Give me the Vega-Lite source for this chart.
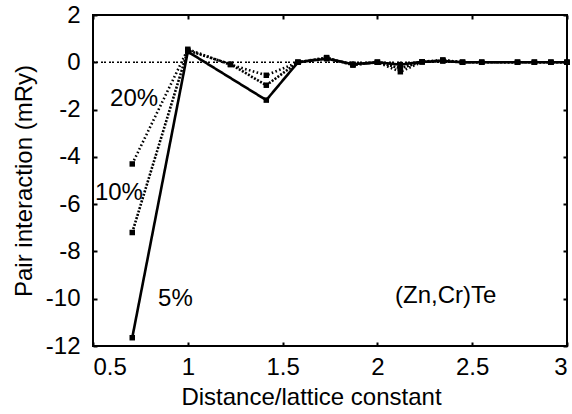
{
  "$schema": "https://vega.github.io/schema/vega-lite/v6.json",
  "width": 474,
  "height": 331,
  "autosize": {"type": "none"},
  "padding": {"left": 93, "top": 15, "right": 5, "bottom": 68},
  "background": "white",
  "config": {
    "font": "Liberation Sans",
    "view": {"stroke": "#000", "strokeWidth": 2},
    "axis": {
      "domain": false,
      "grid": false,
      "tickColor": "#000",
      "tickWidth": 2,
      "tickSize": -4,
      "labelFont": "Liberation Sans",
      "labelFontSize": 24,
      "labelColor": "#000",
      "titleFont": "Liberation Sans",
      "titleFontSize": 24,
      "titleFontWeight": "normal",
      "titleColor": "#000"
    }
  },
  "layer": [
    {
      "data": {"values": [{"d": 0.5}, {"d": 3}]},
      "mark": {"type": "line", "color": "#000", "strokeWidth": 1.6, "strokeDash": [2, 1, 2, 3]},
      "encoding": {
        "x": {"field": "d", "type": "quantitative", "scale": {"domain": [0.5, 3], "nice": false, "zero": false},
              "axis": {"orient": "top", "labels": false, "title": null, "values": [0.5, 1, 1.5, 2, 2.5, 3]}},
        "y": {"datum": 0, "type": "quantitative", "scale": {"domain": [-12, 2], "nice": false},
              "axis": {"orient": "right", "labels": false, "title": null, "values": [-12, -10, -8, -6, -4, -2, 0, 2]}}
      }
    },
    {
      "data": {"values": [
        {"d": 0.707, "v": -11.65, "s": "5%"},
        {"d": 1.0, "v": 0.45, "s": "5%"},
        {"d": 1.414, "v": -1.6, "s": "5%"},
        {"d": 1.581, "v": 0.0, "s": "5%"},
        {"d": 1.732, "v": 0.15, "s": "5%"},
        {"d": 1.871, "v": -0.08, "s": "5%"},
        {"d": 2.0, "v": 0.0, "s": "5%"},
        {"d": 2.121, "v": -0.1, "s": "5%"},
        {"d": 2.236, "v": 0.02, "s": "5%"},
        {"d": 2.345, "v": 0.05, "s": "5%"},
        {"d": 2.449, "v": 0.0, "s": "5%"},
        {"d": 2.55, "v": 0.0, "s": "5%"},
        {"d": 2.739, "v": 0.0, "s": "5%"},
        {"d": 2.828, "v": 0.0, "s": "5%"},
        {"d": 2.915, "v": 0.0, "s": "5%"},
        {"d": 3.0, "v": 0.0, "s": "5%"},
        {"d": 0.707, "v": -7.2, "s": "10%"},
        {"d": 1.0, "v": 0.5, "s": "10%"},
        {"d": 1.225, "v": -0.08, "s": "10%"},
        {"d": 1.414, "v": -0.97, "s": "10%"},
        {"d": 1.581, "v": 0.0, "s": "10%"},
        {"d": 1.732, "v": 0.18, "s": "10%"},
        {"d": 1.871, "v": -0.1, "s": "10%"},
        {"d": 2.0, "v": 0.0, "s": "10%"},
        {"d": 2.121, "v": -0.25, "s": "10%"},
        {"d": 2.236, "v": 0.02, "s": "10%"},
        {"d": 2.345, "v": 0.08, "s": "10%"},
        {"d": 2.449, "v": 0.0, "s": "10%"},
        {"d": 2.55, "v": 0.0, "s": "10%"},
        {"d": 2.739, "v": 0.0, "s": "10%"},
        {"d": 2.828, "v": 0.0, "s": "10%"},
        {"d": 2.915, "v": 0.0, "s": "10%"},
        {"d": 3.0, "v": 0.0, "s": "10%"},
        {"d": 0.707, "v": -4.3, "s": "20%"},
        {"d": 1.0, "v": 0.55, "s": "20%"},
        {"d": 1.225, "v": -0.1, "s": "20%"},
        {"d": 1.414, "v": -0.55, "s": "20%"},
        {"d": 1.581, "v": 0.0, "s": "20%"},
        {"d": 1.732, "v": 0.2, "s": "20%"},
        {"d": 1.871, "v": -0.12, "s": "20%"},
        {"d": 2.0, "v": 0.0, "s": "20%"},
        {"d": 2.121, "v": -0.4, "s": "20%"},
        {"d": 2.236, "v": 0.02, "s": "20%"},
        {"d": 2.345, "v": 0.1, "s": "20%"},
        {"d": 2.449, "v": 0.0, "s": "20%"},
        {"d": 2.55, "v": 0.0, "s": "20%"},
        {"d": 2.739, "v": 0.0, "s": "20%"},
        {"d": 2.828, "v": 0.0, "s": "20%"},
        {"d": 2.915, "v": 0.0, "s": "20%"},
        {"d": 3.0, "v": 0.0, "s": "20%"}
      ]},
      "mark": {"type": "line", "color": "#000", "strokeWidth": 2.6,
               "point": {"shape": "square", "filled": true, "size": 30, "color": "#000"}},
      "encoding": {
        "x": {"field": "d", "type": "quantitative",
              "axis": {"orient": "bottom", "title": "Distance/lattice constant", "values": [0.5, 1, 1.5, 2, 2.5, 3], "format": "~g", "labelPadding": 13, "titlePadding": 6, "titleX": 218}},
        "y": {"field": "v", "type": "quantitative",
              "axis": {"orient": "left", "title": "Pair interaction (mRy)", "values": [-12, -10, -8, -6, -4, -2, 0, 2],
                       "labelExpr": "datum.value < 0 ? '-' + abs(datum.value) : '' + datum.value", "labelPadding": 17, "titlePadding": 9}},
        "detail": {"field": "s"},
        "strokeDash": {"field": "s", "type": "nominal",
                       "scale": {"domain": ["5%", "10%", "20%"], "range": [[1, 0], [2, 1.5], [1.6, 2.4]]},
                       "legend": null}
      }
    },
    {
      "data": {"values": [
        {"t": "20%", "d": 0.59, "v": -1.85},
        {"t": "10%", "d": 0.51, "v": -5.83},
        {"t": "5%", "d": 0.843, "v": -10.3},
        {"t": "(Zn,Cr)Te", "d": 2.093, "v": -10.2}
      ]},
      "mark": {"type": "text", "align": "left", "baseline": "alphabetic", "fontSize": 24, "color": "#000", "font": "Liberation Sans"},
      "encoding": {
        "x": {"field": "d", "type": "quantitative", "axis": null},
        "y": {"field": "v", "type": "quantitative", "axis": null},
        "text": {"field": "t"}
      }
    }
  ],
  "resolve": {"axis": {"x": "independent", "y": "independent"}}
}
